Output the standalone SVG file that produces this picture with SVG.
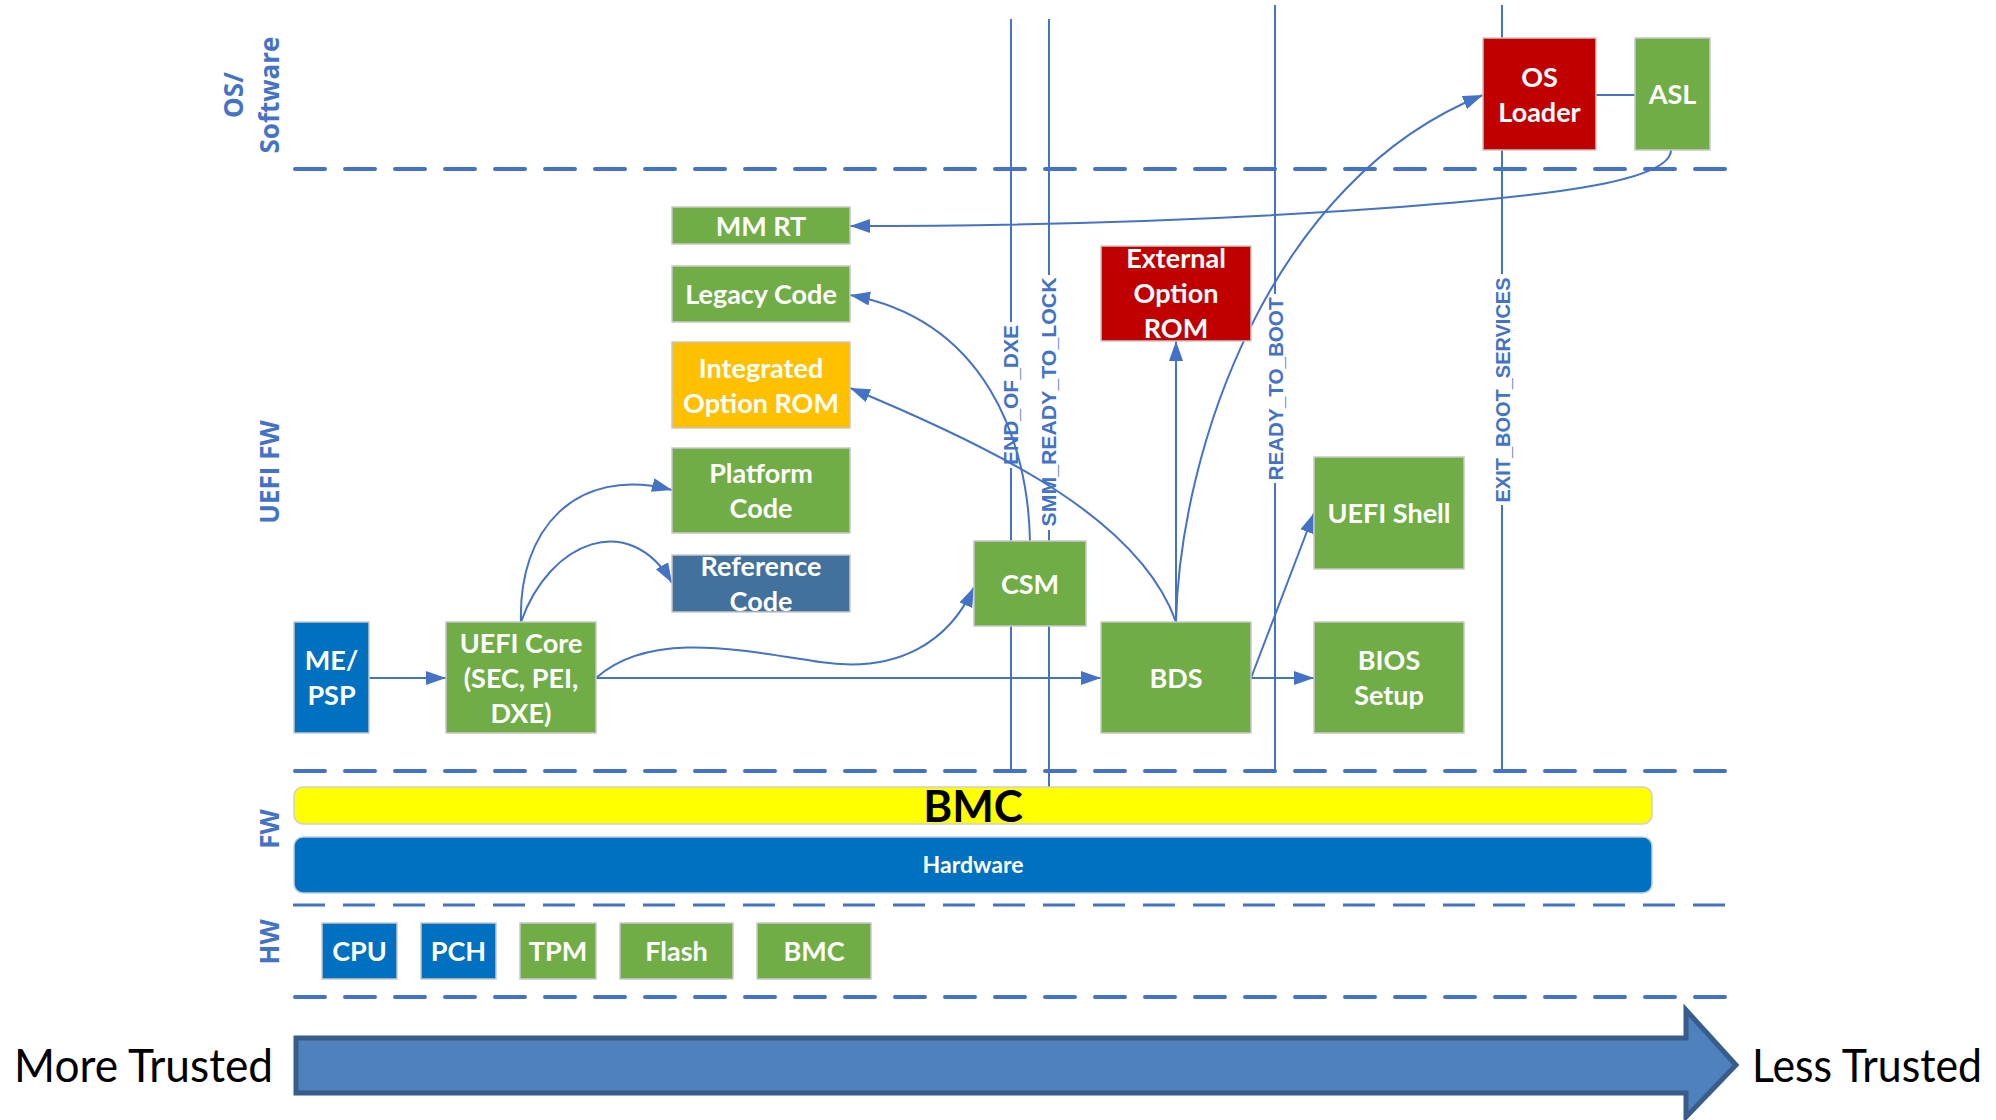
<svg xmlns="http://www.w3.org/2000/svg" width="1996" height="1120" viewBox="0 0 1996 1120">
<defs>
<marker id="ah" markerUnits="userSpaceOnUse" markerWidth="22" markerHeight="16" refX="20" refY="7" orient="auto">
<path d="M0,0 L20,7 L0,14 z" fill="#4472C4"/>
</marker>
<style>
.box{stroke:#C8C8C8;stroke-width:1.5}
.g{fill:#70AD47}.r{fill:#C00000}.o{fill:#FFC000}.b{fill:#0070C0}.sb{fill:#41719C}
.t{font-family:Lato,"Open Sans",sans-serif;font-weight:bold;font-size:27px;fill:#FFFFFF;text-anchor:middle}
.c{fill:none;stroke:#4472C4;stroke-width:2}
.ca{fill:none;stroke:#4472C4;stroke-width:2;marker-end:url(#ah)}
.ev{fill:none;stroke:#4472C4;stroke-width:2}
.evt{font-family:"Liberation Sans",Arial,sans-serif;font-weight:bold;font-size:21px;fill:#4472C4;text-anchor:middle}
.dash{fill:none;stroke:#4472C4;stroke-width:4;stroke-dasharray:30 20;stroke-linecap:round}
.dash2{fill:none;stroke:#4472C4;stroke-width:3;stroke-dasharray:32 18}
.side{font-family:"Open Sans",sans-serif;font-weight:bold;font-size:26px;fill:#4472C4;text-anchor:middle}
.trust{font-family:Lato,"Open Sans",sans-serif;font-size:46px;fill:#000000}
</style>
</defs>
<rect width="1996" height="1120" fill="#FFFFFF"/>

<g id="separators">
<line class="dash" x1="295" y1="169" x2="1730" y2="169"/>
<line class="dash" x1="295" y1="771" x2="1730" y2="771"/>
<line class="dash2" x1="293" y1="905" x2="1732" y2="905"/>
<line class="dash" x1="295" y1="997" x2="1730" y2="997"/>
</g>

<g id="layer-labels">
<text class="side" transform="translate(243,95) rotate(-90)">OS/</text>
<text class="side" transform="translate(279,95) rotate(-90)">Software</text>
<text class="side" transform="translate(279,472) rotate(-90)">UEFI FW</text>
<text class="side" transform="translate(279,829) rotate(-90)">FW</text>
<text class="side" transform="translate(279,942) rotate(-90)">HW</text>
</g>

<g id="events">
<line class="ev" x1="1011" y1="19" x2="1011" y2="322"/>
<line class="ev" x1="1011" y1="468" x2="1011" y2="771"/>
<text class="evt" transform="translate(1018,395) rotate(-90)" textLength="140" lengthAdjust="spacingAndGlyphs">END_OF_DXE</text>
<line class="ev" x1="1049" y1="19" x2="1049" y2="275"/>
<line class="ev" x1="1049" y1="530" x2="1049" y2="787"/>
<text class="evt" transform="translate(1056,402) rotate(-90)" textLength="249" lengthAdjust="spacingAndGlyphs">SMM_READY_TO_LOCK</text>
<line class="ev" x1="1275" y1="5" x2="1275" y2="294"/>
<line class="ev" x1="1275" y1="483" x2="1275" y2="771"/>
<text class="evt" transform="translate(1283,389) rotate(-90)" textLength="183" lengthAdjust="spacingAndGlyphs">READY_TO_BOOT</text>
<line class="ev" x1="1502" y1="5" x2="1502" y2="274"/>
<line class="ev" x1="1502" y1="505" x2="1502" y2="771"/>
<text class="evt" transform="translate(1510,390) rotate(-90)" textLength="225" lengthAdjust="spacingAndGlyphs">EXIT_BOOT_SERVICES</text>
</g>

<g id="connectors">
<line class="ca" x1="369" y1="678" x2="446" y2="678"/>
<line class="ca" x1="596" y1="678" x2="1101" y2="678"/>
<path class="ca" d="M596,678 C650,630 740,650 820,662 C900,674 950,640 974,587"/>
<path class="ca" d="M521,622 C518,530 575,465 672,490"/>
<path class="ca" d="M521,622 C550,540 630,510 672,583"/>
<path class="ca" d="M1030,541 C1028,440 985,320 850,295"/>
<path class="ca" d="M1176,622 C1140,520 1000,450 850,388"/>
<line class="ca" x1="1176" y1="622" x2="1176" y2="341"/>
<path class="ca" d="M1176,622 C1180,450 1270,180 1483,95"/>
<line class="ca" x1="1251" y1="678" x2="1314" y2="678"/>
<line class="ca" x1="1251" y1="678" x2="1314" y2="513"/>
<line class="c" x1="1596" y1="95" x2="1635" y2="95"/>
<path class="ca" d="M1671,150 C1671,180 1560,195 1400,207 C1200,222 1000,226 850,226"/>
</g>

<g id="me-psp"><rect class="box b" x="294" y="622" width="75" height="111"/><text class="t" x="331.5" y="670">ME/</text><text class="t" x="331.5" y="705">PSP</text></g>
<g id="uefi-core"><rect class="box g" x="446" y="622" width="150" height="111"/><text class="t" x="521" y="653">UEFI Core</text><text class="t" x="521" y="688">(SEC, PEI,</text><text class="t" x="521" y="723">DXE)</text></g>
<g id="mm-rt"><rect class="box g" x="672" y="207" width="178" height="37"/><text class="t" x="761" y="236">MM RT</text></g>
<g id="legacy-code"><rect class="box g" x="672" y="266" width="178" height="56"/><text class="t" x="761" y="304">Legacy Code</text></g>
<g id="integrated-option-rom"><rect class="box o" x="672" y="342" width="178" height="86"/><text class="t" x="761" y="378">Integrated</text><text class="t" x="761" y="413">Option ROM</text></g>
<g id="platform-code"><rect class="box g" x="672" y="448" width="178" height="85"/><text class="t" x="761" y="483">Platform</text><text class="t" x="761" y="518">Code</text></g>
<g id="reference-code"><rect class="box sb" x="672" y="555" width="178" height="57"/><text class="t" x="761" y="576">Reference</text><text class="t" x="761" y="611">Code</text></g>
<g id="csm"><rect class="box g" x="974" y="541" width="112" height="85"/><text class="t" x="1030" y="594">CSM</text></g>
<g id="bds"><rect class="box g" x="1101" y="622" width="150" height="111"/><text class="t" x="1176" y="688">BDS</text></g>
<g id="external-option-rom"><rect class="box r" x="1101" y="246" width="150" height="95"/><text class="t" x="1176" y="268">External</text><text class="t" x="1176" y="303">Option</text><text class="t" x="1176" y="338">ROM</text></g>
<g id="uefi-shell"><rect class="box g" x="1314" y="457" width="150" height="112"/><text class="t" x="1389" y="523">UEFI Shell</text></g>
<g id="bios-setup"><rect class="box g" x="1314" y="622" width="150" height="111"/><text class="t" x="1389" y="670">BIOS</text><text class="t" x="1389" y="705">Setup</text></g>
<g id="os-loader"><rect class="box r" x="1483" y="38" width="113" height="112"/><text class="t" x="1539.5" y="87">OS</text><text class="t" x="1539.5" y="122">Loader</text></g>
<g id="asl"><rect class="box g" x="1635" y="38" width="75" height="112"/><text class="t" x="1672.5" y="104">ASL</text></g>

<g id="bmc-bar"><rect x="294" y="787" width="1358" height="37" rx="9" fill="#FFFF00" stroke="#D0D0D0" stroke-width="1.5"/><text x="973" y="822" font-family="Lato,'Open Sans',sans-serif" font-weight="bold" font-size="44" fill="#000000" text-anchor="middle">BMC</text></g>
<g id="hardware-bar"><rect x="294" y="837" width="1358" height="56" rx="9" fill="#0070C0" stroke="#BFCFE0" stroke-width="1.5"/><text x="973" y="873" font-family="Lato,'Open Sans',sans-serif" font-weight="bold" font-size="23" fill="#FFFFFF" text-anchor="middle">Hardware</text></g>

<g id="cpu"><rect class="box b" x="322" y="923" width="75" height="56"/><text class="t" x="359.5" y="961">CPU</text></g>
<g id="pch"><rect class="box b" x="421" y="923" width="75" height="56"/><text class="t" x="458.5" y="961">PCH</text></g>
<g id="tpm"><rect class="box g" x="520" y="923" width="76" height="56"/><text class="t" x="558" y="961">TPM</text></g>
<g id="flash"><rect class="box g" x="620" y="923" width="113" height="56"/><text class="t" x="676.5" y="961">Flash</text></g>
<g id="bmc-hw"><rect class="box g" x="757" y="923" width="114" height="56"/><text class="t" x="814" y="961">BMC</text></g>

<g id="trust-arrow">
<polygon points="296,1038 1686,1038 1686,1010 1736,1065 1686,1117 1686,1093 296,1093" fill="#4F81BD" stroke="#385D8A" stroke-width="5" stroke-linejoin="miter"/>
<text class="trust" x="14" y="1082" textLength="259" lengthAdjust="spacingAndGlyphs">More Trusted</text>
<text class="trust" x="1752" y="1082" textLength="230" lengthAdjust="spacingAndGlyphs">Less Trusted</text>
</g>
</svg>
